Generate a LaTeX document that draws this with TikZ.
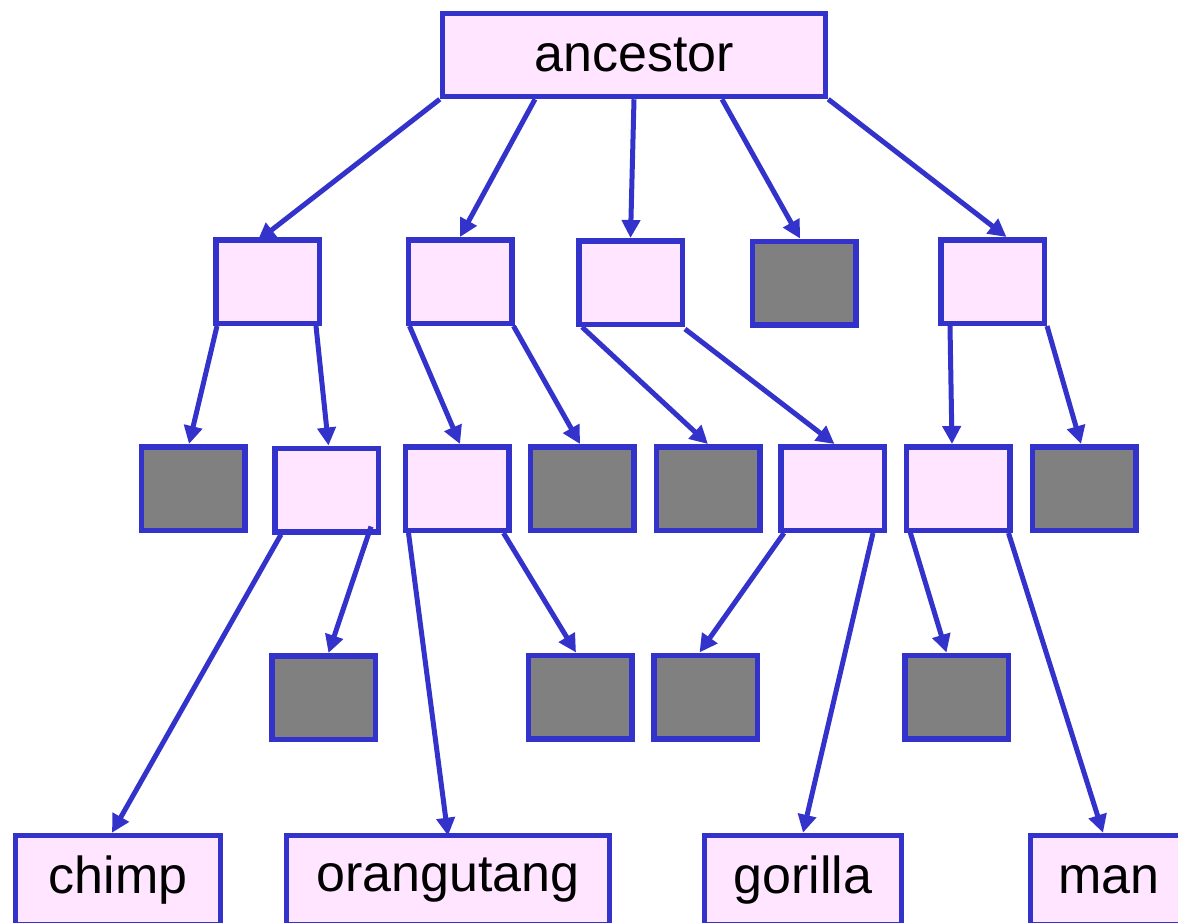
\documentclass[tikz,border=0pt]{standalone}
\usepackage{fontspec}
\setmainfont{Liberation Sans}
\usetikzlibrary{arrows.meta}
\definecolor{bl}{HTML}{3333CC}
\definecolor{pk}{HTML}{FFE5FF}
\definecolor{gy}{HTML}{808080}
\tikzset{
  pbox/.style={draw=bl, fill=pk, line width=5.5pt, inner sep=0pt, minimum width=103.5pt, minimum height=83.5pt},
  gbox/.style={pbox, fill=gy},
  lbox/.style={pbox, minimum height=89pt, font=\fontsize{52}{60}\selectfont},
  arr/.style={draw=bl, line width=5pt, -{Triangle[length=18pt,width=18pt]}}
}
\begin{document}
\begin{tikzpicture}[x=1pt,y=-1pt]
\useasboundingbox (0,0) rectangle (1178,922);
\node[pbox, minimum width=383pt, minimum height=83pt, font=\fontsize{52}{60}\selectfont] (anc) at (634,55) {ancestor};
% row 2
\node[pbox] (A) at (267.5,281.5) {};
\node[pbox] (B) at (460,281.5) {};
\node[pbox] (C) at (630.5,282.5) {};
\node[gbox] (D) at (804,283) {};
\node[pbox] (E) at (992.5,281.5) {};
% row 3
\node[gbox] (g1) at (193,488.5) {};
\node[pbox] (p1) at (326.5,490) {};
\node[pbox] (p2) at (457,488.5) {};
\node[gbox] (g2) at (582,488.5) {};
\node[gbox] (g3) at (708,488.5) {};
\node[pbox] (p3) at (832.5,488.5) {};
\node[pbox] (p4) at (958,488.5) {};
\node[gbox] (g4) at (1084,488.5) {};
% row 4
\node[gbox] (g5) at (323.5,697.5) {};
\node[gbox] (g6) at (580,697) {};
\node[gbox] (g7) at (705.5,697) {};
\node[gbox] (g8) at (956.5,697) {};
% leaves
\node[lbox, minimum width=205pt] (chimp) at (118,880) {chimp};
\node[lbox, minimum width=323pt] (orang) at (448,880) {orangutang};
\node[lbox, minimum width=197pt] (gorilla) at (803,880) {gorilla};
\node[lbox, minimum width=157pt] (man) at (1109,880) {man};
% connectors
\draw[arr] (anc.south west) -- ([xshift=-10pt,yshift=-4pt]A.north);
\draw[arr] ([xshift=-99pt]anc.south) -- (B.north);
\draw[arr] (anc.south) -- (C.north);
\draw[arr] ([xshift=88pt]anc.south) -- ([xshift=-4pt]D.north);
\draw[arr] (anc.south east) -- ([xshift=14pt]E.north);
\draw[arr] ([xshift=4pt]A.south west) -- ([xshift=-4pt]g1.north);
\draw[arr] ([xshift=-6pt]A.south east) -- ([xshift=2pt]p1.north);
\draw[arr] ([xshift=4pt]B.south west) -- ([xshift=3pt]p2.north);
\draw[arr] ([xshift=-1pt]B.south east) -- ([xshift=-2pt]g2.north);
\draw[arr] ([xshift=6pt]C.south west) -- (g3.north);
\draw[arr] ([yshift=-2pt]C.south east) -- ([xshift=2pt]p3.north);
\draw[arr] ([xshift=12pt]E.south west) -- ([xshift=-6pt]p4.north);
\draw[arr] (E.south east) -- ([xshift=-3pt]g4.north);
\draw[arr] ([xshift=9pt]p1.south west) -- ([xshift=-6pt]chimp.north);
\draw[arr] ([xshift=-10pt,yshift=8pt]p1.south east) -- ([xshift=5pt]g5.north);
\draw[arr] ([xshift=6pt]p2.south west) -- ([yshift=-3pt]orang.north);
\draw[arr] ([xshift=-8pt]p2.south east) -- ([xshift=-4pt]g6.north);
\draw[arr] ([xshift=6pt]p3.south west) -- ([xshift=-6pt]g7.north);
\draw[arr] ([xshift=-14pt]p3.south east) -- (gorilla.north);
\draw[arr] ([xshift=6pt,yshift=3pt]p4.south west) -- ([xshift=-10pt]g8.north);
\draw[arr] ([xshift=-4pt]p4.south east) -- ([xshift=-6pt]man.north);
\end{tikzpicture}
\end{document}
